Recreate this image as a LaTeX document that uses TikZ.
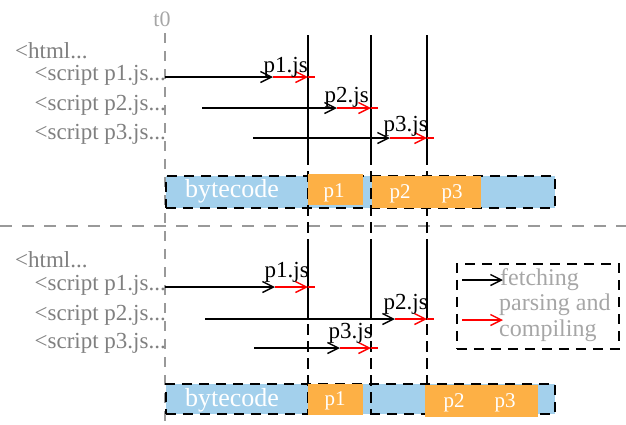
\documentclass[tikz,border=0pt]{standalone}
\usepackage{fontspec}
\setmainfont{Liberation Serif}
\usetikzlibrary{arrows.meta}
\definecolor{bcblue}{HTML}{A3D0EC}
\definecolor{jsorange}{HTML}{FDB045}
\definecolor{txtgray}{HTML}{808080}
\definecolor{leggray}{HTML}{A6A6A6}
\definecolor{guidegray}{HTML}{999999}
\begin{document}
\begin{tikzpicture}[x=1pt,y=-1pt,
  srclbl/.style={font=\fontsize{23}{27}\selectfont, text=txtgray, inner sep=0pt},
  jslbl/.style={font=\fontsize{23}{27}\selectfont, inner sep=0pt, anchor=base east},
  fetcharrow/.style={line width=1.4pt, -{Straight Barb[length=11pt,width=11pt,line width=1.4pt]}},
  parsearrow/.style={fetcharrow, red},
  tail/.style={line width=1.4pt, red},
  timeline/.style={line width=1.5pt, dash pattern=on 11pt off 6pt},
  solidseg/.style={line width=1.5pt},
  guide/.style={line width=1.3pt, guidegray, dash pattern=on 10pt off 8pt},
  barbox/.style={fill=bcblue, draw=black, line width=1.6pt, dash pattern=on 10pt off 7pt, inner sep=0pt, anchor=north west},
  jsbox/.style={fill=jsorange, inner sep=0pt, anchor=north west},
  bartext/.style={text=white, inner sep=0pt, anchor=base},
  legtext/.style={font=\fontsize{24}{27}\selectfont, text=leggray, inner sep=0pt, anchor=base west}
]
\useasboundingbox (0,0) rectangle (626,424);

% guides
\coordinate (t0top) at (165,33);
\coordinate (t0bot) at (165,424);
\draw[guide] (t0top) -- (t0bot);
\node[font=\fontsize{22}{26}\selectfont, text=leggray, inner sep=0pt, anchor=base] (t0) at (162,26) {t0};
\coordinate (divL) at (0,226);
\coordinate (divR) at (626,226);
\draw[guide, dash pattern=on 12pt off 10pt] (divL) -- (divR);

% bars (blue parts)
\node[barbox, minimum width=389pt, minimum height=32pt] (tbar) at (165,175) {};
\node[barbox, minimum width=389pt, minimum height=30pt] (bbar) at (165,383) {};

% vertical timelines
\foreach \x/\n in {308/a,371/b,427/c}{
  \coordinate (v\n top) at (\x,35);
  \coordinate (v\n bot) at (\x,415);
  \coordinate (v\n midtop) at (\x,165);
  \coordinate (v\n lowtop) at (\x,245);
  \coordinate (v\n lowbot) at (\x,320);
  \draw[timeline] (v\n top) -- (v\n bot);
  \draw[solidseg] (v\n top) -- (v\n midtop);
  \draw[solidseg] (v\n lowtop) -- (v\n lowbot);
}

% orange boxes
\node[jsbox, minimum width=55pt, minimum height=31pt] (tp1) at (308,174) {};
\node[jsbox, minimum width=56pt, minimum height=32pt] (tp2) at (372,176) {};
\node[jsbox, minimum width=53pt, minimum height=32pt] (tp3) at (428,176) {};
\node[jsbox, minimum width=55pt, minimum height=31pt] (bp1) at (308,384) {};
\node[jsbox, minimum width=55pt, minimum height=32pt] (bp2) at (425,385) {};
\node[jsbox, minimum width=58pt, minimum height=32pt] (bp3) at (480,385) {};

% bar texts
\node[bartext, font=\fontsize{26}{30}\selectfont] (tbc) at (232,197) {bytecode};
\node[bartext, font=\fontsize{21}{25}\selectfont] (tp1t) at (334,197) {p1};
\node[bartext, font=\fontsize{21}{25}\selectfont] (tp2t) at (400,198) {p2};
\node[bartext, font=\fontsize{21}{25}\selectfont] (tp3t) at (452,198) {p3};
\node[bartext, font=\fontsize{26}{30}\selectfont] (bbc) at (232,406) {bytecode};
\node[bartext, font=\fontsize{21}{25}\selectfont] (bp1t) at (335,405) {p1};
\node[bartext, font=\fontsize{21}{25}\selectfont] (bp2t) at (454,407) {p2};
\node[bartext, font=\fontsize{21}{25}\selectfont] (bp3t) at (505,407) {p3};

% source texts
\node[srclbl, anchor=base west] (th) at (15,58) {<html...};
\node[srclbl, anchor=base east] (ts1) at (166,80) {<script p1.js...};
\node[srclbl, anchor=base east] (ts2) at (166,110) {<script p2.js...};
\node[srclbl, anchor=base east] (ts3) at (166,139) {<script p3.js...};
\node[srclbl, anchor=base west] (bh) at (15,267) {<html...};
\node[srclbl, anchor=base east] (bs1) at (166,290) {<script p1.js...};
\node[srclbl, anchor=base east] (bs2) at (166,320) {<script p2.js...};
\node[srclbl, anchor=base east] (bs3) at (166,348) {<script p3.js...};

% top arrows
\coordinate (ta1s) at (165,77); \coordinate (ta1m) at (273,77); \coordinate (ta1e) at (308,77); \coordinate (ta1x) at (315,77);
\coordinate (ta2s) at (202,108); \coordinate (ta2m) at (337,108); \coordinate (ta2e) at (371,108); \coordinate (ta2x) at (378,108);
\coordinate (ta3s) at (253,138); \coordinate (ta3m) at (390,138); \coordinate (ta3e) at (427,138); \coordinate (ta3x) at (434,138);
\foreach \i in {1,2,3}{
  \draw[tail] (ta\i e) -- (ta\i x);
  \draw[parsearrow] (ta\i m) -- (ta\i e);
  \draw[fetcharrow] (ta\i s) -- (ta\i m);
}
\node[jslbl] (tl1) at (308,72) {p1.js};
\node[jslbl] (tl2) at (369,102) {p2.js};
\node[jslbl] (tl3) at (428,131) {p3.js};

% bottom arrows
\coordinate (ba1s) at (165,287); \coordinate (ba1m) at (275,287); \coordinate (ba1e) at (308,287); \coordinate (ba1x) at (315,287);
\coordinate (ba2s) at (205,319); \coordinate (ba2m) at (395,319); \coordinate (ba2e) at (427,319); \coordinate (ba2x) at (434,319);
\coordinate (ba3s) at (254,348); \coordinate (ba3m) at (340,348); \coordinate (ba3e) at (371,348); \coordinate (ba3x) at (378,348);
\foreach \i in {1,2,3}{
  \draw[tail] (ba\i e) -- (ba\i x);
  \draw[parsearrow] (ba\i m) -- (ba\i e);
  \draw[fetcharrow] (ba\i s) -- (ba\i m);
}
\node[jslbl] (bl1) at (309,277) {p1.js};
\node[jslbl] (bl2) at (428,309) {p2.js};
\node[jslbl] (bl3) at (373,338) {p3.js};

% legend
\node[draw=black, line width=1.6pt, dash pattern=on 10pt off 7pt, inner sep=0pt, anchor=north west,
      minimum width=162pt, minimum height=85pt] (legend) at (456,263) {};
\coordinate (lg1s) at (462,280); \coordinate (lg1e) at (503,280);
\coordinate (lg2s) at (462,320); \coordinate (lg2e) at (503,320);
\draw[fetcharrow] (lg1s) -- (lg1e);
\draw[parsearrow] (lg2s) -- (lg2e);
\node[legtext] (lgt1) at (500,285) {fetching};
\node[legtext] (lgt2) at (499,310) {parsing and};
\node[legtext] (lgt3) at (499,336) {compiling};
\end{tikzpicture}
\end{document}
